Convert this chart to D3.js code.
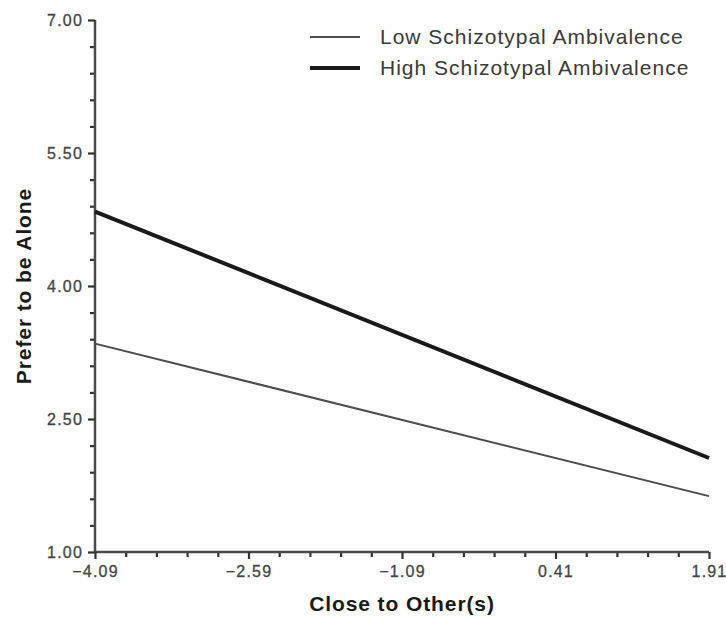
<!DOCTYPE html>
<html>
<head>
<meta charset="utf-8">
<script src="https://cdn.jsdelivr.net/npm/d3@7"></script>
<style>
  body { margin: 0; background: #fff; }
  svg { display: block; }
</style>
</head>
<body>
<svg id="chart" width="726" height="617"></svg>
<script>
// tick values as printed on the axes
const xTicks = [-4.09, -2.59, -1.09, 0.41, 1.91];
const yTicks = [1.00, 2.50, 4.00, 5.50, 7.00];

// simple slopes: predicted value at each end of the x range
const xEnds = [-4.09, 1.91];
const lowValues = [3.35, 1.63];
const highValues = [4.84, 2.06];

const seriesNames = ["Low Schizotypal Ambivalence", "High Schizotypal Ambivalence"];

const svg = d3.select("#chart");
const margin = { top: 20, right: 17, bottom: 65, left: 95 };
const width = 726 - margin.left - margin.right;
const height = 617 - margin.top - margin.bottom;

const g = svg.append("g")
    .attr("transform", `translate(${margin.left},${margin.top})`);

const x = d3.scaleLinear().domain([-4.09, 1.91]).range([0, width]);
const y = d3.scaleLinear().domain([1, 7]).range([height, 0]);

// minor ticks: 5 steps between each pair of labelled ticks
const minorOf = ticks => {
  const out = [];
  for (let i = 0; i < ticks.length - 1; i++) {
    const step = (ticks[i + 1] - ticks[i]) / 5;
    for (let k = 1; k < 5; k++) out.push(ticks[i] + step * k);
  }
  return out;
};

const axisColor = "#4a4a4a";
const labelFont = "Liberation Sans, Arial, sans-serif";

// x axis
const xMinor = g.append("g")
    .attr("transform", `translate(0,${height})`)
    .call(d3.axisBottom(x).tickValues(minorOf(xTicks)).tickSize(5).tickFormat(""));
const xAxis = g.append("g")
    .attr("transform", `translate(0,${height})`)
    .call(d3.axisBottom(x).tickValues(xTicks).tickSize(7).tickPadding(7).tickFormat(d3.format(".2f")));

// y axis
const yMinor = g.append("g")
    .call(d3.axisLeft(y).tickValues(minorOf(yTicks)).tickSize(5).tickFormat(""));
const yAxis = g.append("g")
    .call(d3.axisLeft(y).tickValues(yTicks).tickSize(7).tickPadding(5).tickFormat(d3.format(".2f")));

[xMinor, xAxis, yMinor, yAxis].forEach(a => {
  a.attr("font-family", labelFont).attr("font-size", 16);
  a.select(".domain").attr("stroke", axisColor).attr("stroke-width", 2.5);
  a.selectAll(".tick line").attr("stroke", "#333").attr("stroke-width", 2.2);
  a.selectAll(".tick text")
      .attr("fill", "#454545")
      .attr("stroke", "#454545")
      .attr("stroke-width", 0.3)
      .attr("letter-spacing", "1.2px");
});
[xMinor, yMinor].forEach(a => a.select(".domain").remove());
xAxis.select(".domain").attr("d", `M0,0H${width}`);
yAxis.select(".domain").attr("d", `M0,0V${height}`);
yAxis.selectAll(".tick text").attr("dy", "0.35em");

// lines
const line = d3.line().x(d => x(d[0])).y(d => y(d[1]));
const series = [
  { name: seriesNames[0], values: lowValues, color: "#4d4d4d", w: 2 },
  { name: seriesNames[1], values: highValues, color: "#1a1a1a", w: 4 }
];

series.forEach(s => {
  g.append("path")
      .datum(xEnds.map((xv, i) => [xv, s.values[i]]))
      .attr("d", line)
      .attr("fill", "none")
      .attr("stroke", s.color)
      .attr("stroke-width", s.w);
});

// legend
const legend = svg.append("g").attr("transform", "translate(310,37)");
series.forEach((s, i) => {
  const row = legend.append("g").attr("transform", `translate(0,${i * 31})`);
  row.append("line")
      .attr("x1", 0).attr("x2", 50)
      .attr("stroke", s.color)
      .attr("stroke-width", s.w);
  row.append("text")
      .attr("x", 70)
      .attr("y", 7)
      .attr("fill", "#3a3a3a")
      .style("font-family", labelFont)
      .style("font-size", "21px")
      .style("letter-spacing", "1px")
      .text(s.name);
});

// axis titles
svg.append("text")
    .attr("x", margin.left + width / 2)
    .attr("y", 611)
    .attr("text-anchor", "middle")
    .attr("fill", "#1a1a1a")
    .style("font-family", labelFont)
    .style("font-weight", "bold")
    .style("font-size", "21px")
    .style("letter-spacing", "0.9px")
    .text("Close to Other(s)");

svg.append("text")
    .attr("transform", `translate(31,${margin.top + height / 2}) rotate(-90)`)
    .attr("text-anchor", "middle")
    .attr("fill", "#1a1a1a")
    .style("font-family", labelFont)
    .style("font-weight", "bold")
    .style("font-size", "21px")
    .style("letter-spacing", "0.9px")
    .text("Prefer to be Alone");
</script>
</body>
</html>
